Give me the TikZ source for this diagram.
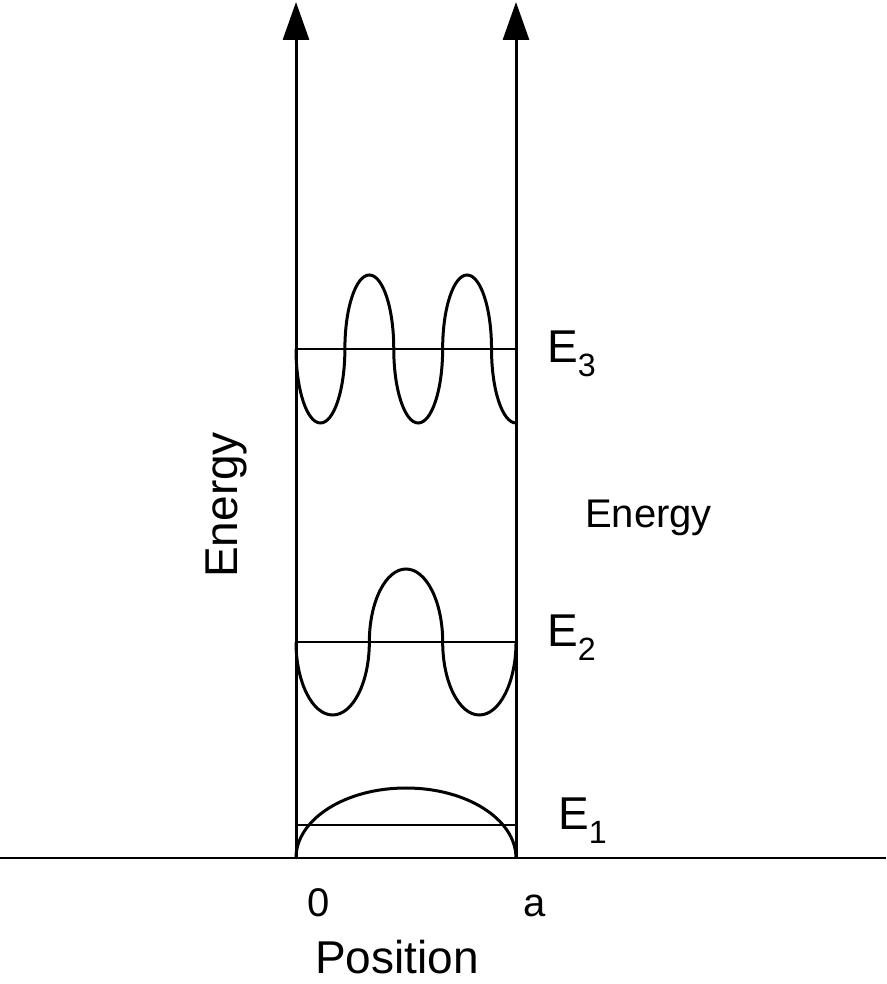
\documentclass[tikz,border=0pt]{standalone}
\usepackage{fontspec}
\setmainfont{Liberation Sans}
\usetikzlibrary{arrows.meta,positioning}
\tikzset{%
	wall/.style  = {line width=3pt,-{Triangle[length=38pt,width=26pt]}},
	level/.style = {line width=2.8pt},
	wave/.style  = {line width=3pt},
	lab/.style   = {inner sep=0pt,font=\fontsize{46}{50}\selectfont},
	smalllab/.style = {inner sep=0pt,font=\fontsize{40}{44}\selectfont},
}
\begin{document}
\begin{tikzpicture}[x=1pt,y=1pt]
		\useasboundingbox (0,0) rectangle (886,984);
		\coordinate (O) at (296,126);
		\coordinate (A) at (516,126);
		
		\draw[level] (0,126) -- (886,126);
		\draw[wall] (O) -- (296,982);
		\draw[wall] (A) -- (516,982);
		
		% energy levels
		\draw[level] (296,159) -- (516,159);
		\draw[level] (296,342) -- (516,342);
		\draw[level] (296,635) -- (516,635);
		
		% wave functions
		\draw[wave] (O) arc[start angle=180,end angle=0,x radius=110,y radius=70];
		\draw[wave] (296,342) arc[start angle=180,end angle=360,x radius=36.67,y radius=73]
			arc[start angle=180,end angle=0,x radius=36.67,y radius=73]
			arc[start angle=180,end angle=360,x radius=36.67,y radius=73];
		\draw[wave] (296,635) \foreach \k in {1,2} {arc[start angle=180,end angle=360,x radius=24.44,y radius=74]
			arc[start angle=180,end angle=0,x radius=24.44,y radius=74]}
			arc[start angle=180,end angle=270,x radius=24.44,y radius=74];
		
		\node[lab,anchor=base west] (e3) at (547,621) {E\textsubscript{3}};
		\node[lab,anchor=base west] (e2) at (547,337) {E\textsubscript{2}};
		\node[lab,anchor=base west] (e1) at (558,154) {E\textsubscript{1}};
		\node[smalllab,anchor=base west] (energyr) at (585,456) {Energy};
		\node[lab,anchor=base west,rotate=90] (energyl) at (237,406) {Energy};
		\node[smalllab,anchor=base west] (zero) at (307,67) {0};
		\node[smalllab,anchor=base west] (a) at (523,67) {a};
		\node[lab,anchor=base west] (pos) at (315,10) {Position};
	\end{tikzpicture}
\end{document}
